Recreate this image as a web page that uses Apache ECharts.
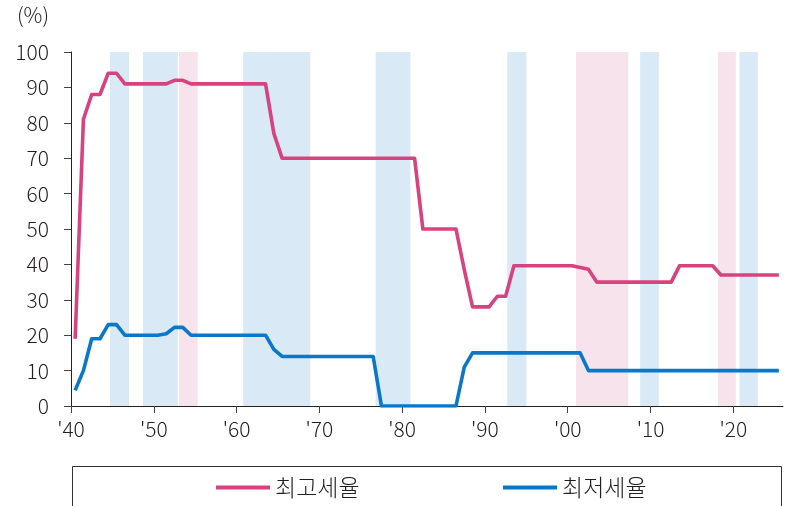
<!DOCTYPE html>
<html>
<head>
<meta charset="utf-8">
<style>
  html, body { margin: 0; padding: 0; background: #fff; }
  #chart { width: 791px; height: 506px; }
</style>
<script src="https://cdn.jsdelivr.net/npm/echarts@6/dist/echarts.min.js"></script>
</head>
<body>
<div id="chart"></div>
<script>
// US federal income tax: top and bottom bracket rates by year (%)
var years = [
  1940, 1941, 1942, 1943, 1944, 1945, 1946, 1947, 1948, 1949,
  1950, 1951, 1952, 1953, 1954, 1955, 1956, 1957, 1958, 1959,
  1960, 1961, 1962, 1963, 1964, 1965, 1966, 1967, 1968, 1969,
  1970, 1971, 1972, 1973, 1974, 1975, 1976, 1977, 1978, 1979,
  1980, 1981, 1982, 1983, 1984, 1985, 1986, 1987, 1988, 1989,
  1990, 1991, 1992, 1993, 1994, 1995, 1996, 1997, 1998, 1999,
  2000, 2001, 2002, 2003, 2004, 2005, 2006, 2007, 2008, 2009,
  2010, 2011, 2012, 2013, 2014, 2015, 2016, 2017, 2018, 2019,
  2020, 2021, 2022, 2023, 2024, 2025
];

var topRate = [
  19, 81, 88, 88, 94, 94, 91, 91, 91, 91,
  91, 91, 92, 92, 91, 91, 91, 91, 91, 91,
  91, 91, 91, 91, 77, 70, 70, 70, 70, 70,
  70, 70, 70, 70, 70, 70, 70, 70, 70, 70,
  70, 70, 50, 50, 50, 50, 50, 38.5, 28, 28,
  28, 31, 31, 39.6, 39.6, 39.6, 39.6, 39.6, 39.6, 39.6,
  39.6, 39.1, 38.6, 35, 35, 35, 35, 35, 35, 35,
  35, 35, 35, 39.6, 39.6, 39.6, 39.6, 39.6, 37, 37,
  37, 37, 37, 37, 37, 37
];

var bottomRate = [
  4.4, 10, 19, 19, 23, 23, 20, 20, 20, 20,
  20, 20.4, 22.2, 22.2, 20, 20, 20, 20, 20, 20,
  20, 20, 20, 20, 16, 14, 14, 14, 14, 14,
  14, 14, 14, 14, 14, 14, 14, 0, 0, 0,
  0, 0, 0, 0, 0, 0, 0, 11, 15, 15,
  15, 15, 15, 15, 15, 15, 15, 15, 15, 15,
  15, 15, 10, 10, 10, 10, 10, 10, 10, 10,
  10, 10, 10, 10, 10, 10, 10, 10, 10, 10,
  10, 10, 10, 10, 10, 10
];

// Shaded periods (start year, end year, kind)
var bandStart = [1944.7, 1948.7, 1953.05, 1960.8, 1976.8, 1992.7, 2001.0, 2008.75, 2018.15, 2020.75];
var bandEnd   = [1947.0, 1952.9, 1955.3, 1968.9, 1981.0, 1995.0, 2007.3, 2011.0, 2020.3, 2022.95];
var bandKind  = ['blue', 'blue', 'pink', 'blue', 'blue', 'blue', 'pink', 'blue', 'pink', 'blue'];

var seriesNames = ['최고세율', '최저세율'];
var xTickLabels = { 1940: "'40", 1950: "'50", 1960: "'60", 1970: "'70", 1980: "'80",
                    1990: "'90", 2000: "'00", 2010: "'10", 2020: "'20" };

var PINK = '#d8437f';
var BLUE = '#0a77c8';
var BAND_COLORS = { blue: '#d9e9f5', pink: '#f6e3ec' };
var FONT = '"Noto Sans CJK KR", "Noto Sans", sans-serif';
var TEXT = '#231f20';
var WEIGHT = 300;

// each year's value sits at mid-year on the time axis
function toPoints(vals) {
  return years.map(function (y, i) { return [y + 0.5, vals[i]]; });
}

var bands = bandStart.map(function (s, i) {
  return [
    { xAxis: s, yAxis: 0, itemStyle: { color: BAND_COLORS[bandKind[i]], opacity: 1 } },
    { xAxis: bandEnd[i], yAxis: 100 }
  ];
});

var legendText = { fontFamily: FONT, fontSize: 23, fontWeight: WEIGHT, color: TEXT };

var chart = echarts.init(document.getElementById('chart'), null, { renderer: 'canvas' });

chart.setOption({
  animation: false,
  backgroundColor: '#fff',
  textStyle: { fontFamily: FONT, color: TEXT },
  grid: { left: 71, right: 8, top: 52, bottom: 100, containLabel: false },
  graphic: [
    {
      type: 'text', left: 17, top: 5,
      style: { text: '(%)', font: WEIGHT + ' 21px ' + FONT, fill: TEXT }
    },
    {
      type: 'rect', z: 0,
      shape: { x: 72.5, y: 466.5, width: 709, height: 60 },
      style: { fill: 'none', stroke: '#333', lineWidth: 1 }
    }
  ],
  legend: [
    {
      data: [seriesNames[0]], left: 211, top: 471,
      icon: 'rect', itemWidth: 54, itemHeight: 4, itemGap: 0,
      textStyle: legendText
    },
    {
      data: [seriesNames[1]], left: 498, top: 471,
      icon: 'rect', itemWidth: 54, itemHeight: 4, itemGap: 0,
      textStyle: legendText
    }
  ],
  xAxis: {
    type: 'value', min: 1940, max: 2026, interval: 10,
    axisLine: { show: true, lineStyle: { color: '#222', width: 1 } },
    axisTick: { show: true, length: 7, lineStyle: { color: '#444' } },
    splitLine: { show: false },
    axisLabel: {
      fontFamily: FONT, fontSize: 21, fontWeight: WEIGHT, color: TEXT, margin: 13,
      showMaxLabel: false,
      formatter: function (v) { return xTickLabels[v] || ''; }
    }
  },
  yAxis: {
    type: 'value', min: 0, max: 100, interval: 10,
    axisLine: { show: true, lineStyle: { color: '#222', width: 1 } },
    axisTick: { show: true, length: 7, lineStyle: { color: '#444' } },
    splitLine: { show: false },
    axisLabel: { fontFamily: FONT, fontSize: 21, fontWeight: WEIGHT, color: TEXT, margin: 22 }
  },
  series: [
    {
      name: seriesNames[0], type: 'line', data: toPoints(topRate),
      showSymbol: false, symbol: 'none', z: 3,
      itemStyle: { color: PINK },
      lineStyle: { color: PINK, width: 3.6, join: 'round' },
      markArea: { silent: true, z: 1, data: bands }
    },
    {
      name: seriesNames[1], type: 'line', data: toPoints(bottomRate),
      showSymbol: false, symbol: 'none', z: 3,
      itemStyle: { color: BLUE },
      lineStyle: { color: BLUE, width: 3.6, join: 'round' }
    }
  ]
});
</script>
</body>
</html>
